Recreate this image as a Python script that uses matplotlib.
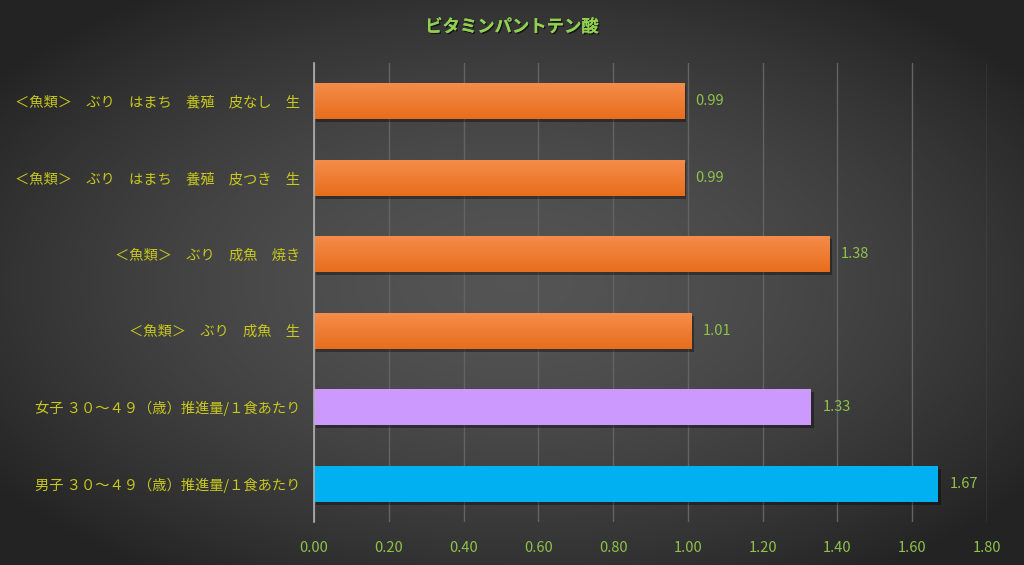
import numpy as np
import matplotlib
matplotlib.use("Agg")
import matplotlib.pyplot as plt
import matplotlib.patheffects as pe

plt.rcParams['font.family'] = ['Noto Sans CJK JP', 'DejaVu Sans']

title = "ビタミンパントテン酸"
categories = [
    "男子 ３０～４９（歳）推進量/１食あたり",
    "女子 ３０～４９（歳）推進量/１食あたり",
    "＜魚類＞　ぶり　成魚　生",
    "＜魚類＞　ぶり　成魚　焼き",
    "＜魚類＞　ぶり　はまち　養殖　皮つき　生",
    "＜魚類＞　ぶり　はまち　養殖　皮なし　生",
]
values = [1.67, 1.33, 1.01, 1.38, 0.99, 0.99]
value_labels = ["1.67", "1.33", "1.01", "1.38", "0.99", "0.99"]
bar_colors = ["#00b0f0", "#cc99ff", "#f07c2c", "#f07c2c", "#f07c2c", "#f07c2c"]
xticks = [0.0, 0.2, 0.4, 0.6, 0.8, 1.0, 1.2, 1.4, 1.6, 1.8]

W, H = 1024, 565
fig = plt.figure(figsize=(W / 100, H / 100), dpi=100)

# radial gradient background
bg = fig.add_axes([0, 0, 1, 1], zorder=-10)
yy, xx = np.mgrid[0:H, 0:W]
r = np.sqrt(((xx - W * 0.5) / (W * 0.62)) ** 2 + ((yy - H * 0.5) / (H * 0.62)) ** 2)
r = np.clip(r, 0, 1)
v = 0.33 - 0.19 * r ** 1.6
img = np.dstack([v, v, v])
bg.imshow(img, aspect='auto', extent=[0, 1, 0, 1])
bg.set_axis_off()

ax = fig.add_axes([314 / W, 1 - 522 / H, (987 - 314) / W, (522 - 63) / H])
ax.patch.set_alpha(0)
y = np.arange(len(categories))
bh = 0.47

# shadows
ax.barh(y - 0.04, values, height=bh, left=0.006, color="black", alpha=0.35, zorder=2)
bars = ax.barh(y, values, height=bh, color=bar_colors, zorder=3)

# gradient for orange bars
grad = np.linspace(0, 1, 50).reshape(-1, 1)
for b, c in zip(bars, bar_colors):
    if c == "#f07c2c":
        x0, y0 = b.get_x(), b.get_y()
        w, h = b.get_width(), b.get_height()
        top = np.array([0.96, 0.55, 0.29])
        bot = np.array([0.91, 0.43, 0.11])
        g = top[None, None, :] * (1 - grad[:, :, None]) + bot[None, None, :] * grad[:, :, None]
        ax.imshow(g, extent=[x0, x0 + w, y0, y0 + h], aspect='auto', zorder=4, origin='upper')

for yi, val, lab in zip(y, values, value_labels):
    ax.text(val + 0.03, yi, lab, va='center', ha='left', color="#8fc24a", fontsize=10.5, zorder=5)

ax.set_xlim(0, 1.8)
ax.set_ylim(-0.5, 5.5)
ax.set_xticks(xticks)
ax.set_xticklabels([f"{t:.2f}" for t in xticks], color="#8fc24a", fontsize=10.5)
ax.set_yticks(y)
ax.set_yticklabels(categories, color="#c8c81e", fontsize=10.3)
ax.tick_params(axis='x', length=0, pad=14)
ax.tick_params(axis='y', length=0, pad=10)
ax.grid(axis='x', color="#636363", linewidth=1, zorder=1)
ax.set_axisbelow(True)
for s in ['top', 'right', 'bottom']:
    ax.spines[s].set_visible(False)
ax.spines['left'].set_color("#b0b0b0")
ax.spines['left'].set_linewidth(1.2)
ax.spines['left'].set_zorder(6)

fig.text(0.5, 1 - 27 / H, title, ha='center', va='center', color="#92d050",
         fontsize=12.5, fontweight='bold',
         path_effects=[pe.withSimplePatchShadow(offset=(1, -1), shadow_rgbFace='black', alpha=0.6), pe.Normal()])

fig.savefig("out.png", dpi=100)
